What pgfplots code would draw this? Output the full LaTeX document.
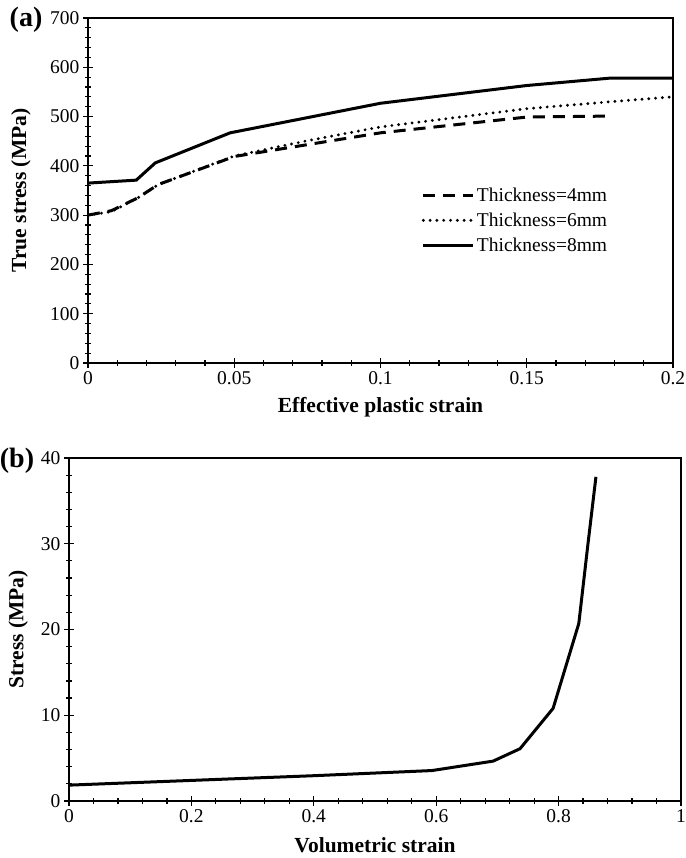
\documentclass[border=0pt]{standalone}
\usepackage{pgfplots}
\pgfplotsset{compat=1.18}
\usepackage{fontspec}
\setmainfont{Liberation Serif}
\newcommand\tfont{\fontsize{19.5}{22}\selectfont}
\newcommand\lfont{\fontsize{21.5}{24}\selectfont\bfseries}
\pgfplotsset{
  common/.style={
    scale only axis,
    anchor=south west,
    axis line style={line width=1.4pt},
    tick style={line width=1.2pt, black},
    tick align=center,
    major tick length=10pt,
    minor tick length=6pt,
    xtick pos=left, ytick pos=left,
    minor x tick num=4, minor y tick num=4,
    tick label style={font=\tfont},
    /pgf/number format/assume math mode=true,
    every axis x label/.style={at={(axis description cs:0.5,-0.128)},anchor=center,font=\lfont},
  },
  dashedS/.style={black, line width=3pt, dash pattern=on 12pt off 8pt},
  dottedS/.style={black, line width=3.2pt, line cap=round, dash pattern=on 0pt off 6.8pt},
  solidS/.style={black, line width=3pt},
}
\begin{document}
\begin{tikzpicture}
\useasboundingbox (0pt,0pt) rectangle (685pt,858pt);
% panel (a)
\begin{axis}[common,
  at={(88pt,495pt)}, width=585pt, height=345pt,
  xmin=0, xmax=0.2, ymin=0, ymax=700,
  xtick={0,0.05,0.1,0.15,0.2}, xticklabels={0,0.05,0.1,0.15,0.2},
  ytick={0,100,...,700},
  xlabel={Effective plastic strain},
  ylabel={True stress (MPa)},
  every axis y label/.style={at={(axis description cs:-0.1145,0.5)},anchor=center,rotate=90,font=\lfont},
  legend style={at={(axis description cs:0.565,0.52)}, anchor=north west, draw=none, fill=none,
    font=\tfont, row sep=6pt, legend cell align=left},
  legend image code/.code={\draw[#1] (0pt,0pt) -- (50pt,0pt);},
]
\addplot[dashedS] coordinates {(0,300) (0.008,309) (0.017,335) (0.024,362) (0.05,419) (0.075,443) (0.1,467) (0.15,499) (0.1785,501)};
\addlegendentry{Thickness=4mm}
\addplot[dottedS] coordinates {(0,300) (0.008,307) (0.017,335) (0.024,362) (0.05,420) (0.075,451) (0.1,479) (0.15,516) (0.1785,530) (0.2,540)};
\addlegendentry{Thickness=6mm}
\addplot[solidS] coordinates {(0,365) (0.0165,371) (0.023,406) (0.0486,467) (0.1,527) (0.15,563) (0.1785,578) (0.2,578)};
\addlegendentry{Thickness=8mm}
\end{axis}
% panel (b)
\begin{axis}[common,
  at={(69pt,57pt)}, width=612pt, height=343pt,
  xmin=0, xmax=1, ymin=0, ymax=40,
  xtick={0,0.2,0.4,0.6,0.8,1}, xticklabels={0,0.2,0.4,0.6,0.8,1},
  ytick={0,10,20,30,40},
  xlabel={Volumetric strain},
  ylabel={Stress (MPa)},
  every axis y label/.style={at={(axis description cs:-0.083,0.5)},anchor=center,rotate=90,font=\lfont},
]
\addplot[solidS] coordinates {(0,1.85) (0.2,2.4) (0.4,2.95) (0.593,3.55) (0.693,4.65) (0.737,6.1) (0.791,10.8) (0.833,20.7) (0.848,30) (0.861,37.8)};
\end{axis}
\node[font=\fontsize{28}{30}\selectfont\bfseries] at (26pt,838pt) {(a)};
\node[font=\fontsize{28}{30}\selectfont\bfseries] at (17pt,397pt) {(b)};
\end{tikzpicture}
\end{document}
